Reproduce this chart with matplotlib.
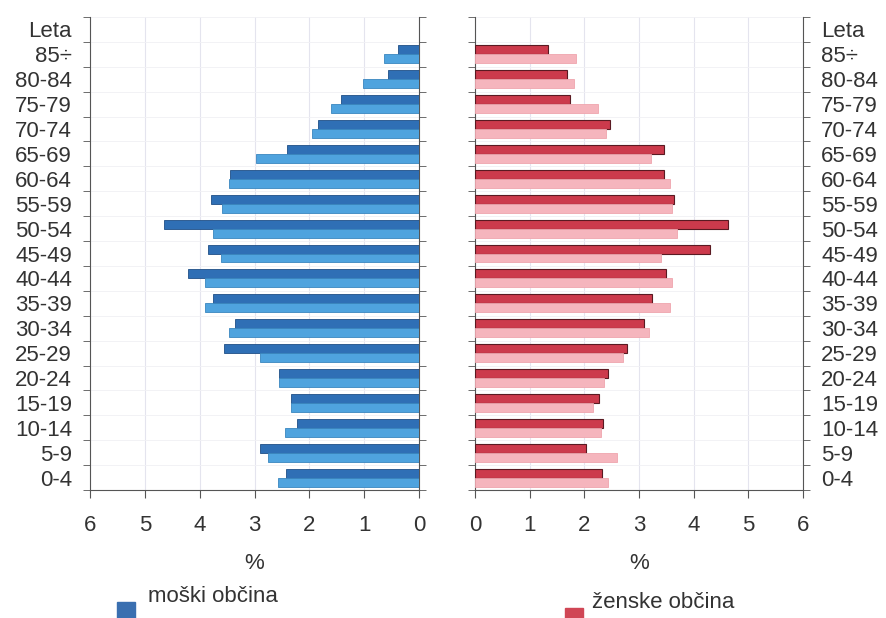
import numpy as np
import matplotlib.pyplot as plt
from matplotlib.patches import Rectangle

groups = ['0-4', '5-9', '10-14', '15-19', '20-24', '25-29', '30-34', '35-39', '40-44',
          '45-49', '50-54', '55-59', '60-64', '65-69', '70-74', '75-79', '80-84', '85÷']
# left panel: dark = upper bar, light = lower bar (%)
m_dark = [2.42, 2.90, 2.22, 2.33, 2.55, 3.55, 3.36, 3.76, 4.22,
          3.84, 4.65, 3.80, 3.45, 2.40, 1.85, 1.42, 0.56, 0.38]
m_light = [2.57, 2.76, 2.44, 2.33, 2.55, 2.90, 3.47, 3.91, 3.91,
           3.62, 3.75, 3.60, 3.47, 2.98, 1.95, 1.60, 1.02, 0.64]
# right panel
z_dark = [2.32, 2.03, 2.34, 2.27, 2.43, 2.78, 3.09, 3.24, 3.49,
          4.30, 4.62, 3.64, 3.45, 3.45, 2.47, 1.74, 1.68, 1.33]
z_light = [2.43, 2.60, 2.30, 2.16, 2.36, 2.70, 3.18, 3.56, 3.60,
           3.40, 3.69, 3.60, 3.56, 3.22, 2.39, 2.25, 1.81, 1.85]
ticks = [0, 1, 2, 3, 4, 5, 6]

txt = '#333333'
fs = 16
plt.rcParams['font.family'] = ['Liberation Sans', 'DejaVu Sans']

fig = plt.figure(figsize=(8.86, 6.18), dpi=100)
axL = fig.add_axes([0.1016, 0.2071, 0.3713, 0.7654])
axR = fig.add_axes([0.5361, 0.2071, 0.3702, 0.7654])

y = np.arange(len(groups))
h = 0.36

axL.barh(y + 0.18, m_dark, h, color='#2f6fb5', edgecolor='#1f4f86', lw=0.6, zorder=3)
axL.barh(y - 0.18, m_light, h, color='#4fa3de', edgecolor='#3a86bf', lw=0.6, zorder=3)
axR.barh(y + 0.18, z_dark, h, color='#cc3a4c', edgecolor='#5a1a22', lw=0.8, zorder=3)
axR.barh(y - 0.18, z_light, h, color='#f5b5bd', edgecolor='#efa5ae', lw=0.6, zorder=3)

labels = groups + ['Leta']
for ax in (axL, axR):
    ax.set_xlim(0, 6)
    ax.set_ylim(-0.5, 18.5)
    ax.set_xticks(ticks)
    ax.set_yticks(np.arange(19))
    ax.set_yticklabels(labels, fontsize=fs, color=txt)
    ax.set_yticks(np.arange(-0.5, 19.0, 1), minor=True)
    ax.tick_params(axis='y', which='major', length=0, pad=13)
    ax.tick_params(axis='y', which='minor', length=5, color='#555555', left=True, right=True)
    ax.tick_params(axis='x', length=6, labelsize=fs, labelcolor=txt, pad=12, color='#555555')
    ax.grid(axis='x', color='#e4e4ee', lw=0.8, zorder=0)
    ax.grid(axis='y', which='minor', color='#f0f0f4', lw=0.6, zorder=0)
    ax.spines['top'].set_visible(False)
    for s in ('left', 'right', 'bottom'):
        ax.spines[s].set_color('#555555')
    ax.set_xlabel('%', fontsize=fs, color=txt, labelpad=12)

axL.invert_xaxis()
axL.tick_params(axis='y', which='major', labelleft=True, labelright=False)
axR.tick_params(axis='y', which='major', labelleft=False, labelright=True)
for lab in axR.get_yticklabels():
    lab.set_horizontalalignment('left')

# legend
W, H = 886, 618
fig.patches.append(Rectangle((117 / W, 0), 18 / W, 16 / H, transform=fig.transFigure,
                             color='#3a6fb0', figure=fig))
fig.text(148 / W, 1 - 597 / H, 'moški občina', fontsize=fs, color=txt, va='center')
fig.patches.append(Rectangle((565 / W, 0), 18 / W, 10 / H, transform=fig.transFigure,
                             color='#d04655', figure=fig))
fig.text(592 / W, 1 - 602 / H, 'ženske občina', fontsize=fs, color=txt, va='center')

fig.savefig('out.png', dpi=100)
